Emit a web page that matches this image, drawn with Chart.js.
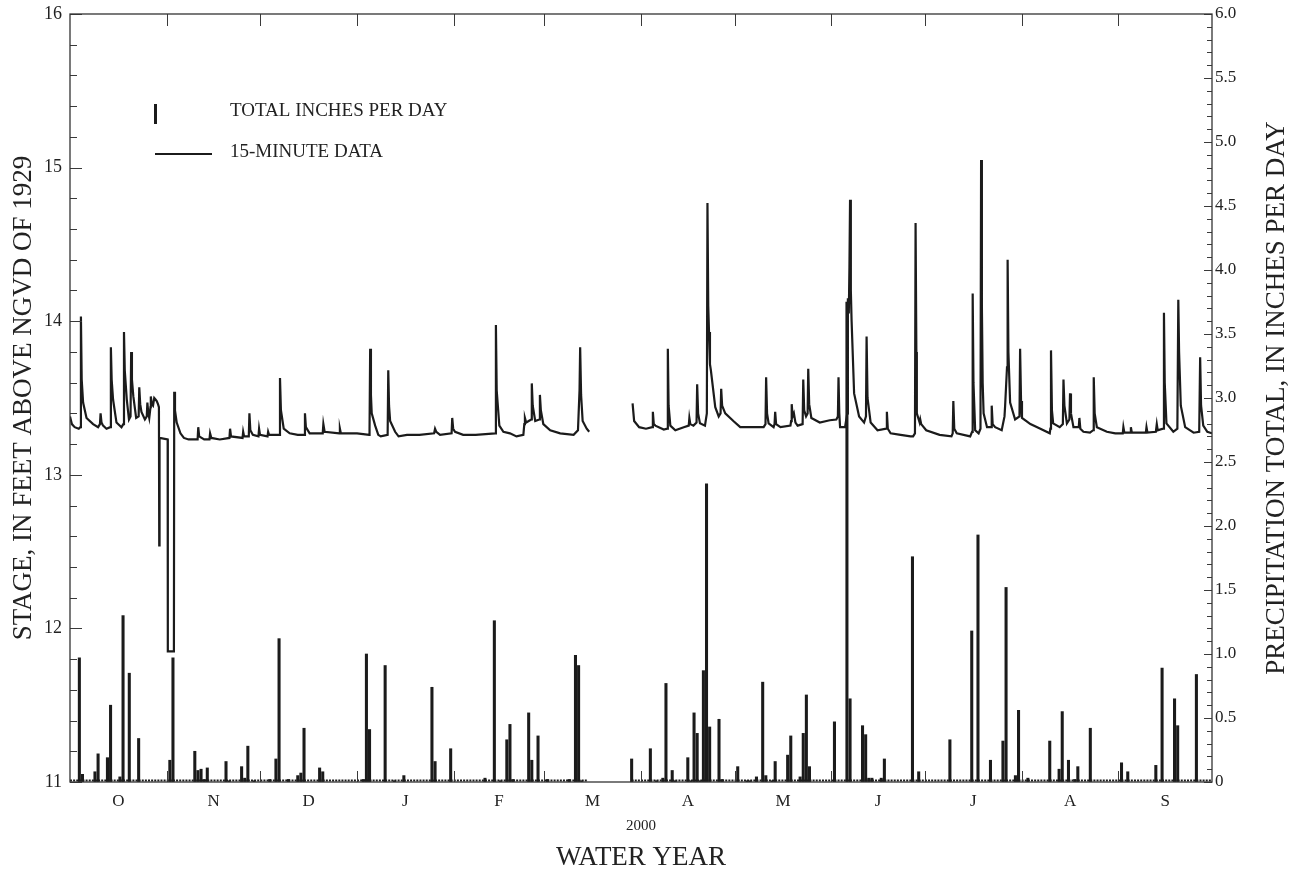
<!DOCTYPE html>
<html><head><meta charset="utf-8">
<script src="https://cdn.jsdelivr.net/npm/chart.js@4.4.1/dist/chart.umd.min.js"></script>
<style>html,body{margin:0;padding:0;background:#fff}canvas{display:block}</style>
</head><body>
<canvas id="c" width="1296" height="875"></canvas>
<script>
// ---- categories / axis labels ----
const monthLabels = ['O','N','D','J','F','M','A','M','J','J','A','S'];
const monthLengths = [31,30,31,31,29,31,30,31,30,31,31,30]; // water year 2000 (Oct 1999 - Sep 2000)
const yearLabel = '2000';
const xTitle = 'WATER YEAR';
const yTitle = 'STAGE, IN FEET ABOVE NGVD OF 1929';
const y2Title = 'PRECIPITATION TOTAL, IN INCHES PER DAY';
const legendBar = 'TOTAL INCHES PER DAY';
const legendLine = '15-MINUTE DATA';

// ---- stage, 15-minute record (day of water year, feet) ----
const stageOctDec = [[0,13.38],[0.6,13.33],[1.5,13.31],[2.8,13.30],[3.3,13.31],[3.5,14.03],[3.75,13.62],[4.2,13.47],[5.3,13.37],[7.4,13.33],[9.0,13.31],[9.6,13.33],[9.8,13.40],[10.1,13.34],[10.6,13.32],[11.7,13.30],[12.9,13.31],[13.1,13.83],[13.35,13.62],[13.8,13.49],[14.9,13.34],[16.5,13.31],[17.1,13.33],[17.3,13.93],[17.55,13.68],[18.2,13.49],[18.9,13.36],[19.4,13.38],[19.6,13.80],[19.85,13.62],[20.3,13.51],[21.2,13.37],[22.0,13.38],[22.2,13.57],[22.5,13.46],[22.9,13.41],[24.0,13.36],[24.6,13.38],[24.8,13.47],[25.1,13.40],[25.4,13.37],[25.8,13.44],[25.9,13.51],[26.2,13.46],[26.6,13.45],[27.0,13.50],[27.4,13.49],[27.8,13.48],[28.2,13.46],[28.5,13.44],[28.6,12.54],[28.7,13.24],[31.3,13.23],[31.35,11.85],[33.3,11.85],[33.4,13.54],[33.65,13.42],[34.2,13.34],[35.4,13.27],[36.5,13.24],[38,13.23],[40.9,13.23],[41.1,13.31],[41.4,13.25],[43,13.23],[44.7,13.23],[44.9,13.27],[45.3,13.24],[48,13.23],[51.1,13.24],[51.3,13.30],[51.6,13.25],[55.3,13.24],[55.5,13.28],[55.8,13.25],[57.3,13.25],[57.5,13.40],[57.8,13.29],[58.6,13.26],[60.4,13.25],[60.6,13.30],[60.9,13.26],[63.3,13.25],[63.5,13.28],[63.8,13.26],[67.0,13.26],[67.3,13.63],[67.6,13.42],[68.5,13.30],[70.4,13.27],[73,13.26],[75.0,13.26],[75.3,13.40],[75.6,13.31],[76.8,13.27],[81.0,13.27],[81.2,13.33],[81.6,13.28],[86.3,13.27],[86.5,13.30],[86.8,13.27],[92,13.27]];
const stageJanMar = [[95.9,13.26],[96.0,13.30],[96.2,13.82],[96.45,13.52],[96.7,13.40],[97.8,13.32],[98.8,13.26],[99.6,13.25],[101.8,13.26],[102.0,13.68],[102.25,13.45],[102.6,13.35],[104.2,13.28],[105.3,13.25],[108,13.26],[112,13.26],[116.7,13.27],[117.0,13.30],[117.4,13.28],[118.6,13.26],[122.3,13.27],[122.5,13.37],[122.8,13.30],[123.4,13.28],[126,13.26],[130,13.26],[136.3,13.27],[136.5,13.975],[136.75,13.55],[137.6,13.32],[138.9,13.28],[141,13.27],[143.1,13.25],[145.3,13.26],[145.6,13.33],[145.8,13.37],[146.2,13.34],[147.0,13.35],[147.8,13.36],[148.0,13.595],[148.3,13.45],[149.1,13.35],[150.4,13.36],[150.6,13.52],[150.9,13.42],[151.7,13.33],[153.9,13.29],[157.1,13.27],[161.4,13.26],[162.8,13.29],[163.3,13.55],[163.5,13.83],[163.8,13.52],[164.3,13.35],[165.6,13.30],[166.4,13.28]];
const stageAprJun = [[180.3,13.465],[180.8,13.35],[182.4,13.31],[184.6,13.30],[186.6,13.31],[186.8,13.41],[187.1,13.33],[187.6,13.32],[190.3,13.295],[191.4,13.30],[191.6,13.82],[191.85,13.45],[192.4,13.32],[194,13.29],[196.7,13.31],[198.3,13.32],[198.5,13.37],[198.8,13.33],[199.8,13.32],[200.8,13.34],[201.0,13.59],[201.3,13.40],[201.9,13.335],[203.5,13.32],[204.1,13.40],[204.3,14.77],[204.55,14.10],[204.8,13.93],[205.1,13.72],[205.4,13.68],[206.8,13.44],[207.9,13.38],[208.5,13.40],[208.7,13.56],[209.0,13.45],[210,13.40],[212.6,13.35],[214.8,13.31],[218,13.31],[222.3,13.31],[222.9,13.33],[223.1,13.635],[223.4,13.40],[223.9,13.335],[225.5,13.31],[225.8,13.33],[226.0,13.41],[226.3,13.33],[227.7,13.31],[230.9,13.32],[231.1,13.35],[231.3,13.46],[231.6,13.38],[232.0,13.40],[232.5,13.34],[233.2,13.32],[234.8,13.33],[235.0,13.62],[235.3,13.42],[235.9,13.38],[236.4,13.40],[236.6,13.69],[236.9,13.46],[237.6,13.37],[240.3,13.34],[243.5,13.355],[245.6,13.36],[246.1,13.38],[246.3,13.635],[246.55,13.40],[246.8,13.31],[248.4,13.31],[249.1,13.40],[249.3,14.15],[249.6,14.05],[249.8,14.35],[250.0,14.79],[250.25,14.2],[250.5,14.0],[251.3,13.53],[252.9,13.38],[254.5,13.34],[255.1,13.38],[255.3,13.90],[255.6,13.50],[256.6,13.34],[258.8,13.29],[261.6,13.30],[261.8,13.41],[262.1,13.30],[263,13.27],[266.2,13.26],[269.4,13.25],[270.2,13.25]];
const stageJulSep = [[270.8,13.27],[271.0,14.64],[271.25,13.8],[271.4,13.40],[272.3,13.34],[272.5,13.36],[272.8,13.33],[274.4,13.29],[278.7,13.26],[282.5,13.25],[282.9,13.27],[283.1,13.48],[283.4,13.30],[284.2,13.27],[288.5,13.25],[289.1,13.28],[289.3,14.18],[289.55,13.6],[290.1,13.29],[291.2,13.27],[291.8,13.30],[292.0,15.05],[292.25,14.1],[292.5,13.6],[292.8,13.40],[293.9,13.31],[295.2,13.31],[295.4,13.45],[295.7,13.33],[296.5,13.31],[298.6,13.29],[299.5,13.38],[299.7,13.45],[300.3,13.70],[300.5,14.40],[300.75,13.8],[301.3,13.47],[302.9,13.36],[304.3,13.38],[304.5,13.82],[304.8,13.48],[305.1,13.37],[307.8,13.33],[311,13.30],[314.0,13.27],[314.2,13.30],[314.4,13.81],[314.7,13.42],[315.1,13.335],[317.2,13.31],[318.2,13.33],[318.4,13.62],[318.7,13.45],[319.5,13.335],[320.3,13.36],[320.5,13.53],[320.8,13.40],[321.6,13.31],[323.3,13.31],[323.5,13.37],[323.8,13.30],[324.8,13.28],[326.9,13.274],[327.9,13.29],[328.1,13.635],[328.4,13.40],[329.1,13.31],[332.3,13.28],[335,13.27],[337.4,13.27],[337.6,13.31],[337.9,13.275],[339.8,13.275],[340.0,13.31],[340.3,13.275],[344.8,13.275],[345.0,13.31],[345.3,13.275],[348.0,13.28],[348.3,13.33],[348.6,13.29],[350.3,13.30],[350.6,14.055],[350.85,13.6],[351.4,13.335],[353.6,13.28],[354.9,13.30],[355.2,14.14],[355.45,13.8],[356.0,13.45],[357.4,13.31],[360.1,13.274],[361.9,13.28],[362.2,13.765],[362.5,13.45],[363.2,13.32],[364.5,13.28],[366,13.27]];

// ---- daily precipitation (day of water year, inches) ----
const precipDay = [3,4,8,9,12,13,16,17,19,22,32,33,40,41,42,43,44,50,51,55,56,57,59,64,66,67,70,73,74,75,80,81,94,95,96,101,104,107,116,117,122,133,136,138,140,141,142,147,148,150,153,160,162,163,164,180,186,188,190,191,193,194,198,199,200,201,202,203,204,205,208,209,214,217,218,220,222,223,225,226,230,231,234,235,236,237,245,249,250,254,255,256,257,260,261,270,272,282,289,291,295,299,300,303,304,307,314,317,318,320,322,323,327,337,339,348,350,354,355,361];
const precipIn  = [0.97,0.06,0.08,0.22,0.19,0.60,0.04,1.30,0.85,0.34,0.17,0.97,0.24,0.09,0.10,0.02,0.11,0.16,0.01,0.12,0.03,0.28,0.01,0.02,0.18,1.12,0.02,0.05,0.07,0.42,0.11,0.08,0.02,1.00,0.41,0.91,0.01,0.05,0.74,0.16,0.26,0.03,1.26,0.01,0.33,0.45,0.02,0.54,0.17,0.36,0.02,0.02,0.99,0.91,0.01,0.18,0.26,0.01,0.03,0.77,0.09,0.01,0.19,0.01,0.54,0.38,0.01,0.87,2.33,0.43,0.49,0.02,0.12,0.01,0.01,0.04,0.78,0.05,0.01,0.16,0.21,0.36,0.04,0.38,0.68,0.12,0.47,3.75,0.65,0.44,0.37,0.03,0.03,0.03,0.18,1.76,0.08,0.33,1.18,1.93,0.17,0.32,1.52,0.05,0.56,0.03,0.32,0.10,0.55,0.17,0.02,0.12,0.42,0.15,0.08,0.13,0.89,0.65,0.44,0.84];
// days with a precipitation record (zero-rain days form the dotted base)
const precipRecordSpans = [[0,166],[180,366]];

// ---- build library data ----
const toXY = p => ({x:p[0], y:p[1]});
const stageData = [].concat(stageOctDec.map(toXY), stageJanMar.map(toXY), [{x:173, y:null}], stageAprJun.map(toXY), stageJulSep.map(toXY));
const precipData = precipDay.map((d,i)=>({x:d, y:precipIn[i]}));
const baseData = [];
precipRecordSpans.forEach((s,i)=>{ if(i) baseData.push({x:(s[0]+precipRecordSpans[i-1][1])/2, y:null}); baseData.push({x:s[0],y:0.012},{x:s[1],y:0.012}); });
const monthBounds = [0]; monthLengths.forEach(l=>monthBounds.push(monthBounds[monthBounds.length-1]+l));
const monthMid = monthLengths.map((l,i)=>monthBounds[i]+l/2);

const SERIF = '"Liberation Serif","Times New Roman",serif';
const INK = '#1b1b1b';

const decor = {
  id:'decor',
  afterDraw(chart){
    const {ctx, chartArea:a, scales:{x,y,y2}} = chart;
    ctx.save();
    ctx.strokeStyle = '#3a3a3a'; ctx.lineWidth = 1;
    ctx.beginPath();
    for (let i=0;i<=25;i++){ const v=11+i*0.2; const py=Math.round(y.getPixelForValue(v))+0.5; const L=(i%5===0)?12:7; ctx.moveTo(a.left,py); ctx.lineTo(a.left+L,py); }
    for (let i=0;i<=60;i++){ const v=i*0.1; const py=Math.round(y2.getPixelForValue(v))+0.5; const L=(i%5===0)?8:5; ctx.moveTo(a.right,py); ctx.lineTo(a.right-L,py); }
    monthBounds.slice(1,-1).forEach(d=>{ const px=Math.round(x.getPixelForValue(d))+0.5; ctx.moveTo(px,a.top); ctx.lineTo(px,a.top+12); ctx.moveTo(px,a.bottom); ctx.lineTo(px,a.bottom-11); });
    ctx.stroke();
    ctx.lineWidth = 1.3; ctx.strokeStyle='#333';
    ctx.strokeRect(a.left, a.top, a.right-a.left, a.bottom-a.top);
    // legend
    ctx.fillStyle = INK;
    ctx.fillRect(154, 104, 3, 20);
    ctx.lineWidth = 2; ctx.strokeStyle = INK;
    ctx.beginPath(); ctx.moveTo(155,154); ctx.lineTo(212,154); ctx.stroke();
    ctx.fillStyle = '#222';
    ctx.font = '19px '+SERIF; ctx.textAlign='left'; ctx.textBaseline='middle';
    ctx.fillText(legendBar, 230, 111);
    ctx.fillText(legendLine, 230, 152);
    // axis titles
    ctx.font = '27px '+SERIF; ctx.textAlign='center'; ctx.textBaseline='middle';
    const cy = (a.top+a.bottom)/2;
    [[yTitle,24],[y2Title,1277]].forEach(([t,cx])=>{ ctx.save(); ctx.translate(cx,cy); ctx.rotate(-Math.PI/2); ctx.fillText(t,0,0); ctx.restore(); });
    const cx = (a.left+a.right)/2;
    ctx.font = '15px '+SERIF; ctx.fillText(yearLabel, cx, 826);
    ctx.font = '27px '+SERIF; ctx.fillText(xTitle, cx, 858);
    ctx.restore();
  }
};

Chart.defaults.font.family = SERIF;
Chart.defaults.color = '#222';

const noPad = s => { s.paddingTop = 0; s.paddingBottom = 0; };

new Chart(document.getElementById('c'), {
  type: 'bar',
  data: { datasets: [
    { type:'line', label:legendLine, data:stageData, yAxisID:'y', borderColor:INK, borderWidth:2.2, pointRadius:0, tension:0, spanGaps:false, order:0 },
    { type:'bar', label:legendBar, data:precipData, yAxisID:'y2', backgroundColor:INK, barThickness:2.4, order:1 },
    { type:'line', label:'base', data:baseData, yAxisID:'y2', borderColor:INK, borderWidth:2, borderDash:[2,1.12], pointRadius:0, spanGaps:false, order:2 }
  ]},
  plugins:[decor],
  options: {
    responsive:false, animation:false, events:[],
    layout:{ padding:{ top:14, left:0, right:0, bottom:0 } },
    plugins:{ legend:{display:false}, tooltip:{enabled:false} },
    scales:{
      x:{ type:'linear', min:0, max:366, offset:false, grid:{display:false, drawTicks:false}, border:{display:false},
          afterBuildTicks: s => { s.ticks = monthMid.map(v=>({value:v})); },
          afterFit: s => { s.height = 93; s.paddingLeft = 0; s.paddingRight = 0; },
          ticks:{ autoSkip:false, maxRotation:0, padding:9, font:{size:17}, callback:(v,i)=>monthLabels[i] } },
      y:{ position:'left', min:11, max:16, grid:{display:false, drawTicks:false}, border:{display:false},
          afterFit: s => { s.width = 70; noPad(s); },
          ticks:{ stepSize:1, padding:8, font:{size:18} } },
      y2:{ position:'right', min:0, max:6, grid:{display:false, drawTicks:false}, border:{display:false},
          afterFit: s => { s.width = 84; noPad(s); },
          ticks:{ stepSize:0.5, padding:3, font:{size:17}, callback:v => v===0 ? '0' : v.toFixed(1) } }
    }
  }
});
</script>
</body></html>
